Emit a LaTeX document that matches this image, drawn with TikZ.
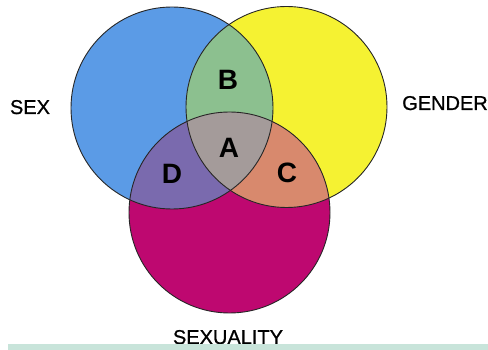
\documentclass[tikz,border=0pt]{standalone}
\usepackage{fontspec}
\setmainfont{Liberation Sans}
\newfontfamily\labelfont[FakeBold=0.8]{Liberation Sans}
\usepackage{tikz}
\usetikzlibrary{positioning}

\definecolor{sexblue}{RGB}{91,155,230}
\definecolor{gendyellow}{RGB}{245,242,50}
\definecolor{sexumag}{RGB}{190,8,112}
\definecolor{regB}{RGB}{140,192,143}
\definecolor{regA}{RGB}{164,155,154}
\definecolor{regC}{RGB}{216,137,109}
\definecolor{regD}{RGB}{122,106,174}
\definecolor{barmint}{RGB}{200,228,218}

\tikzset{
	region/.style={font=\bfseries\fontsize{28}{28}\selectfont},
	setlabel/.style={font=\labelfont\fontsize{20}{20}\selectfont, anchor=base},
	rim/.style={draw=black!85, line width=0.9pt}
}

\begin{document}
\begin{tikzpicture}[x=1pt,y=-1pt]

	\useasboundingbox (0,0) rectangle (488,350);

	\coordinate (sex) at (172,108);
	\coordinate (gender) at (286.5,107);
	\coordinate (sexuality) at (229.5,212.5);

	% the three sets
	\fill[sexblue] (sex) circle (101pt);
	\fill[gendyellow] (gender) circle (100.5pt);
	\fill[sexumag] (sexuality) circle (100.5pt);

	% overlaps
	\begin{scope}
		\clip (sex) circle (101pt);
		\fill[regB] (gender) circle (100.5pt);
		\fill[regD] (sexuality) circle (100.5pt);
	\end{scope}
	\begin{scope}
		\clip (gender) circle (100.5pt);
		\fill[regC] (sexuality) circle (100.5pt);
	\end{scope}
	\begin{scope}
		\clip (sex) circle (101pt);
		\clip (gender) circle (100.5pt);
		\fill[regA] (sexuality) circle (100.5pt);
	\end{scope}

	\draw[rim] (sex) circle (101pt);
	\draw[rim] (gender) circle (100.5pt);
	\draw[rim] (sexuality) circle (100.5pt);

	\node[region] (a) at (229,148) {A};
	\node[region] (b) at (228,80) {B};
	\node[region] (c) at (287,173) {C};
	\node[region] (d) at (172,174) {D};

	\node[setlabel] (sexlbl) at (30,114) {SEX};
	\node[setlabel] (genderlbl) at (445,110) {GENDER};
	\node[setlabel] (sexualitylbl) at (228,344) {SEXUALITY};

	\fill[barmint] (8,344) rectangle (488,350);

\end{tikzpicture}
\end{document}
